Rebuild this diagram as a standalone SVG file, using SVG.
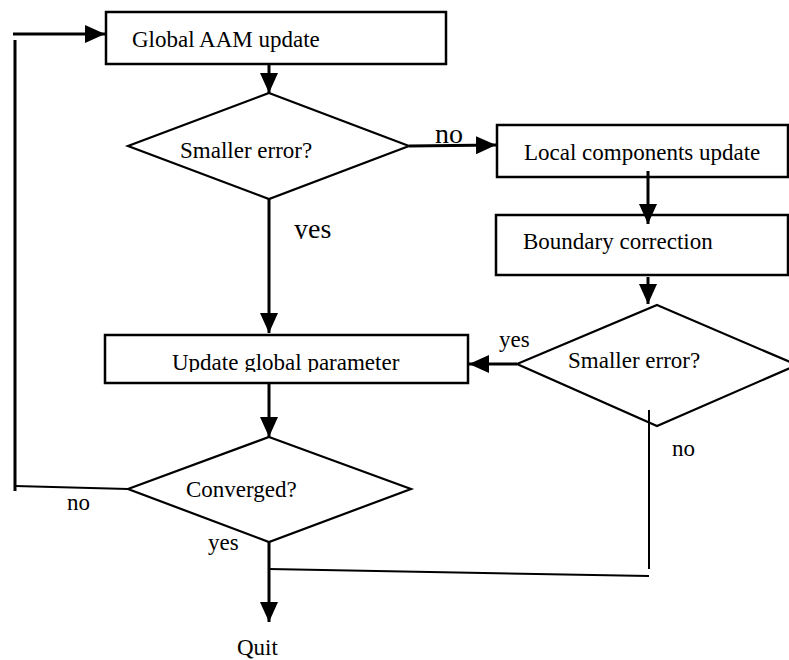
<svg xmlns="http://www.w3.org/2000/svg" width="789" height="660" viewBox="0 0 789 660">
  <style>
    .box { fill: #fff; stroke: #000; stroke-width: 2.5; }
    .dia { fill: #fff; stroke: #000; stroke-width: 2.2; }
    .flow { fill: none; stroke: #000; stroke-width: 3; }
    .thin { fill: none; stroke: #000; stroke-width: 2; }
    text { font-family: "Liberation Serif", "Times New Roman", serif; fill: #000; }
    .lbl { font-size: 23px; }
    .big { font-size: 28px; }
  </style>
  <defs>
    <marker id="arrow" markerUnits="userSpaceOnUse" markerWidth="20" markerHeight="18" refX="20" refY="9" orient="auto">
      <path d="M0,0 L20,9 L0,18 z" fill="#000"/>
    </marker>
    <clipPath id="clipUpd"><rect x="105" y="335" width="363" height="37"/></clipPath>
    <clipPath id="clipYes"><rect x="280" y="200" width="80" height="39"/></clipPath>
  </defs>

  <g id="global-update">
    <rect class="box" x="106" y="12" width="340" height="52"/>
    <text class="lbl" x="132" y="47">Global AAM update</text>
  </g>

  <g id="smaller-error-1">
    <polygon class="dia" points="269,93 409,146 269,199 128,146"/>
    <text class="lbl" x="180" y="158">Smaller error?</text>
  </g>

  <g id="local-update">
    <rect class="box" x="497" y="125" width="291" height="52"/>
    <text class="lbl" x="524" y="160">Local components update</text>
  </g>

  <g id="boundary-correction">
    <rect class="box" x="496" y="215" width="292" height="60"/>
    <text class="lbl" x="523" y="249">Boundary correction</text>
  </g>

  <g id="smaller-error-2">
    <polygon class="dia" points="657,305 797,365 657,426 517,364"/>
    <text class="lbl" x="568" y="368">Smaller error?</text>
  </g>

  <g id="update-global">
    <rect class="box" x="105" y="335" width="363" height="48"/>
    <text class="lbl" x="172" y="370" clip-path="url(#clipUpd)">Update global parameter</text>
  </g>

  <g id="converged">
    <polygon class="dia" points="269,437 411,489 269,542 128,489"/>
    <text class="lbl" x="186" y="497">Converged?</text>
  </g>

  <g id="quit">
    <text class="lbl" x="237" y="655">Quit</text>
  </g>

  <g id="connectors">
    <!-- loop back to the global update -->
    <line class="flow" x1="13" y1="34" x2="105" y2="34" marker-end="url(#arrow)"/>
    <line class="flow" x1="15" y1="40" x2="15" y2="491"/>
    <line class="thin" x1="15" y1="486" x2="128" y2="489"/>
    <!-- main column -->
    <line class="flow" x1="269" y1="64" x2="269" y2="93" marker-end="url(#arrow)"/>
    <line class="flow" x1="269" y1="199" x2="269" y2="333" marker-end="url(#arrow)"/>
    <line class="flow" x1="269" y1="384" x2="269" y2="437" marker-end="url(#arrow)"/>
    <line class="flow" x1="269" y1="542" x2="269" y2="622" marker-end="url(#arrow)"/>
    <!-- local branch -->
    <line class="flow" x1="409" y1="146" x2="496" y2="145" marker-end="url(#arrow)"/>
    <line class="flow" x1="648" y1="171" x2="648" y2="224" marker-end="url(#arrow)"/>
    <line class="flow" x1="648" y1="277" x2="648" y2="304" marker-end="url(#arrow)"/>
    <line class="flow" x1="517" y1="364" x2="469" y2="364" marker-end="url(#arrow)"/>
    <!-- no-path from the second test down to quit -->
    <line class="thin" x1="649" y1="410" x2="649" y2="569"/>
    <line class="thin" x1="269" y1="569" x2="649" y2="576"/>
  </g>

  <g id="labels">
    <text class="big" x="435" y="143">no</text>
    <text class="big" x="294" y="238" clip-path="url(#clipYes)">yes</text>
    <text class="lbl" x="499" y="347">yes</text>
    <text class="lbl" x="672" y="456">no</text>
    <text class="lbl" x="67" y="510">no</text>
    <text class="lbl" x="208" y="550">yes</text>
  </g>
</svg>
